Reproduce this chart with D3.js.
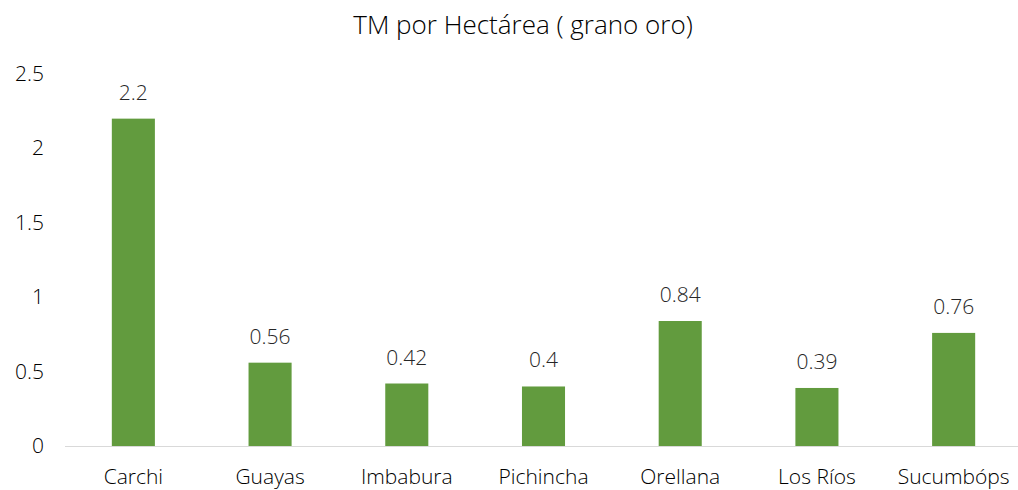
<!DOCTYPE html>
<html><head><meta charset="utf-8">
<script src="https://cdn.jsdelivr.net/npm/d3@7"></script>
<style>
html,body{margin:0;padding:0;background:#fff;}
svg{display:block;font-family:"Open Sans",sans-serif;}
</style></head>
<body>
<svg id="c" width="1018" height="490"></svg>
<script>
const categories = ["Carchi","Guayas","Imbabura","Pichincha","Orellana","Los Ríos","Sucumbóps"];
const values = [2.2,0.56,0.42,0.4,0.84,0.39,0.76];
const labels = ["2.2","0.56","0.42","0.4","0.84","0.39","0.76"];
const yTicks = [0,0.5,1,1.5,2,2.5];
const yTickLabels = ["0","0.5","1","1.5","2","2.5"];
const title = "TM por Hectárea ( grano oro)";

const svg = d3.select("#c");
const x = d3.scaleBand().domain(categories).range([65,1022]).padding(0);
const y = d3.scaleLinear().domain([0,2.5]).range([446,74]);
const barW = x.bandwidth()*0.315;

svg.append("text").attr("x",523).attr("y",34).attr("text-anchor","middle")
  .attr("font-size",26).attr("font-weight",300).attr("fill","#000").text(title);

svg.append("line").attr("x1",65).attr("x2",1018).attr("y1",y(0)+0.5).attr("y2",y(0)+0.5)
  .attr("stroke","#d9d9d9").attr("stroke-width",1);

svg.selectAll("rect.bar").data(values).enter().append("rect").attr("class","bar")
  .attr("x",(d,i)=>x(categories[i])+x.bandwidth()/2-barW/2)
  .attr("width",barW)
  .attr("y",d=>y(d)).attr("height",d=>y(0)-y(d))
  .attr("fill","#629b3e");

svg.selectAll("text.lab").data(values).enter().append("text").attr("class","lab")
  .attr("x",(d,i)=>x(categories[i])+x.bandwidth()/2)
  .attr("y",d=>y(d)-19).attr("text-anchor","middle")
  .attr("font-size",21).attr("font-weight",300).attr("fill","#262626")
  .text((d,i)=>labels[i]);

svg.selectAll("text.yt").data(yTicks).enter().append("text").attr("class","yt")
  .attr("x",44).attr("y",d=>y(d)+7).attr("text-anchor","end")
  .attr("font-size",21).attr("font-weight",300).attr("fill","#000")
  .text((d,i)=>yTickLabels[i]);

svg.selectAll("text.xt").data(categories).enter().append("text").attr("class","xt")
  .attr("x",d=>x(d)+x.bandwidth()/2).attr("y",484).attr("text-anchor","middle")
  .attr("font-size",21).attr("font-weight",300).attr("fill","#000")
  .text(d=>d);
</script>
</body></html>
